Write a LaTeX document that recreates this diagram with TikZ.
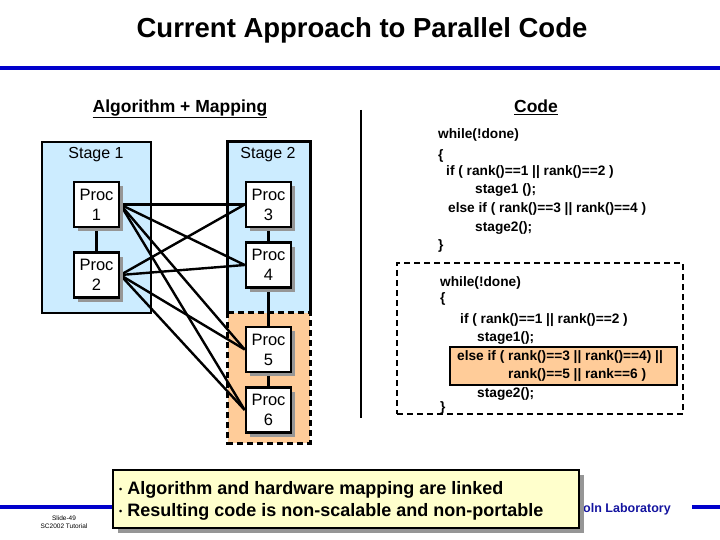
\documentclass[tikz,border=0pt]{standalone}
\usepackage{fontspec}
\setmainfont{Liberation Sans}
\usetikzlibrary{shadows}
\definecolor{sblue}{RGB}{204,236,255}
\definecolor{sorange}{RGB}{255,204,153}
\definecolor{syellow}{RGB}{255,255,204}
\definecolor{lineblue}{RGB}{0,0,204}
\definecolor{labblue}{RGB}{20,20,160}
\definecolor{shadowgray}{RGB}{150,150,150}
\newcommand{\fsz}[1]{\fontsize{#1}{#1}\selectfont}
\newcommand{\smbul}{{\fontsize{9}{9}\selectfont\raisebox{2pt}{\textbullet}}\ }
\begin{document}
\begin{tikzpicture}[x=1pt,y=-1pt,
  procbox/.style={draw=black,fill=white,line width=2.6pt,minimum width=45pt,minimum height=45pt,
    inner sep=0pt,align=center,font=\fontsize{16.5}{20}\selectfont,
    drop shadow={shadow xshift=4pt,shadow yshift=-4pt,fill=shadowgray,opacity=1}},
  link/.style={line width=2.4pt,black},
  codeline/.style={anchor=west,inner sep=0pt,font=\bfseries\fsz{13.7}},
  heading/.style={font=\bfseries\fsz{17.5},inner sep=0pt},
  stagelabel/.style={font=\fsz{16},inner sep=0pt}]
\useasboundingbox (0,0) rectangle (720,540);
\fill[white] (0,0) rectangle (720,540);

% title and rule
\node[font=\bfseries\fsz{27.5},inner sep=0pt] (title) at (362,30) {Current Approach to Parallel Code};
\coordinate (rl) at (0,68); \coordinate (rr) at (720,68);
\draw[lineblue,line width=4.5pt] (rl) -- (rr);

% headings
\node[heading] (alg) at (180,109) {\underline{Algorithm + Mapping}};
\node[heading] (code) at (536,107) {\underline{Code}};

% stage boxes
\node[draw=black,fill=sblue,line width=2.8pt,minimum width=109pt,minimum height=171pt,inner sep=0pt] (s1) at (96.5,227.5) {};
\node[fill=sblue,minimum width=82pt,minimum height=171pt,inner sep=0pt] (s2) at (269,227.5) {};
\node[fill=sorange,minimum width=82pt,minimum height=130pt,inner sep=0pt] (s3) at (269,378) {};
\draw[line width=2.8pt] (s2.south west) -- (s2.north west) -- (s2.north east) -- (s2.south east);
\draw[line width=2.8pt,dash pattern=on 6pt off 4pt] (s3.north west) -- (s3.north east) -- (s3.south east) -- (s3.south west) -- cycle;
\node[stagelabel] (st1) at (96,155) {Stage 1};
\node[stagelabel] (st2) at (268,155) {Stage 2};

% proc nodes
\node[procbox] (p1) at (96.5,204.5) {Proc\\1};
\node[procbox] (p2) at (96.5,275) {Proc\\2};
\node[procbox] (p3) at (268.5,204.5) {Proc\\3};
\node[procbox] (p4) at (268.5,265) {Proc\\4};
\node[procbox] (p5) at (268.5,349.5) {Proc\\5};
\node[procbox] (p6) at (268.5,410) {Proc\\6};

% vertical links
\draw[link] (p1) -- (p2);
\draw[link] (p3) -- (p4);
\draw[link] (p4) -- (p5);
\draw[link] (p5) -- (p6);

% cross links
\foreach \a in {p1,p2}{
  \foreach \b in {p3,p4,p5,p6}{
    \draw[link] (\a.east) -- (\b.west);
  }
}
% redraw procs above links
\node[procbox] at (p1) {Proc\\1};
\node[procbox] at (p2) {Proc\\2};
\node[procbox] at (p3) {Proc\\3};
\node[procbox] at (p4) {Proc\\4};
\node[procbox] at (p5) {Proc\\5};
\node[procbox] at (p6) {Proc\\6};

% divider
\coordinate (dt) at (361,110); \coordinate (db) at (361,418);
\draw[line width=2pt] (dt) -- (db);

% code block 1
\node[codeline] (c1) at (438,135) {while(!done)};
\node[codeline] (c2) at (438,156) {\{};
\node[codeline] (c3) at (446,172) {if ( rank()==1 || rank()==2 )};
\node[codeline] (c4) at (475,190) {stage1 ();};
\node[codeline] (c5) at (448,209) {else if ( rank()==3 || rank()==4 )};
\node[codeline] (c6) at (475,228) {stage2();};
\node[codeline] (c7) at (438,246) {\}};

% code block 2
\node[draw=black,dashed,dash pattern=on 6pt off 4pt,line width=2.6pt,minimum width=286pt,minimum height=151pt,inner sep=0pt] (dbox) at (540,338.5) {};
\node[draw=black,fill=sorange,line width=2.8pt,minimum width=227pt,minimum height=38pt,inner sep=0pt] (hbox) at (563.5,366) {};
\node[codeline] (d1) at (440,283) {while(!done)};
\node[codeline] (d2) at (440,299) {\{};
\node[codeline] (d3) at (460,320) {if ( rank()==1 || rank()==2 )};
\node[codeline] (d4) at (477,338) {stage1();};
\node[codeline] (d5) at (457,357) {else if ( rank()==3 || rank()==4) ||};
\node[codeline] (d6) at (508,375) {rank()==5 || rank==6 )};
\node[codeline] (d7) at (477,394) {stage2();};
\node[codeline] (d8) at (440,408) {\}};

% footer
\coordinate (fl) at (0,507); \coordinate (fm) at (120,507);
\draw[lineblue,line width=4pt] (fl) -- (fm);
\coordinate (fr1) at (692,507); \coordinate (fr2) at (720,507);
\draw[lineblue,line width=4pt] (fr1) -- (fr2);
\node[font=\bfseries\fsz{12.5},text=labblue,anchor=west,inner sep=0pt] (lab) at (583,509) {oln Laboratory};
\node[font=\fsz{6.5},inner sep=0pt,align=center] (slide) at (64,522) {Slide-49\\[1pt]SC2002 Tutorial};

\node[draw=black,fill=syellow,line width=1.8pt,minimum width=466pt,minimum height=58pt,inner sep=0pt,
  drop shadow={shadow xshift=5pt,shadow yshift=-5pt,fill=shadowgray,opacity=1}] (yb) at (346,499) {};
\node[font=\bfseries\fsz{18},anchor=west,inner sep=0pt,align=left] (bul) at (119,501)
  {\smbul Algorithm and hardware mapping are linked\\[4pt]\smbul Resulting code is non-scalable and non-portable};
\end{tikzpicture}
\end{document}
